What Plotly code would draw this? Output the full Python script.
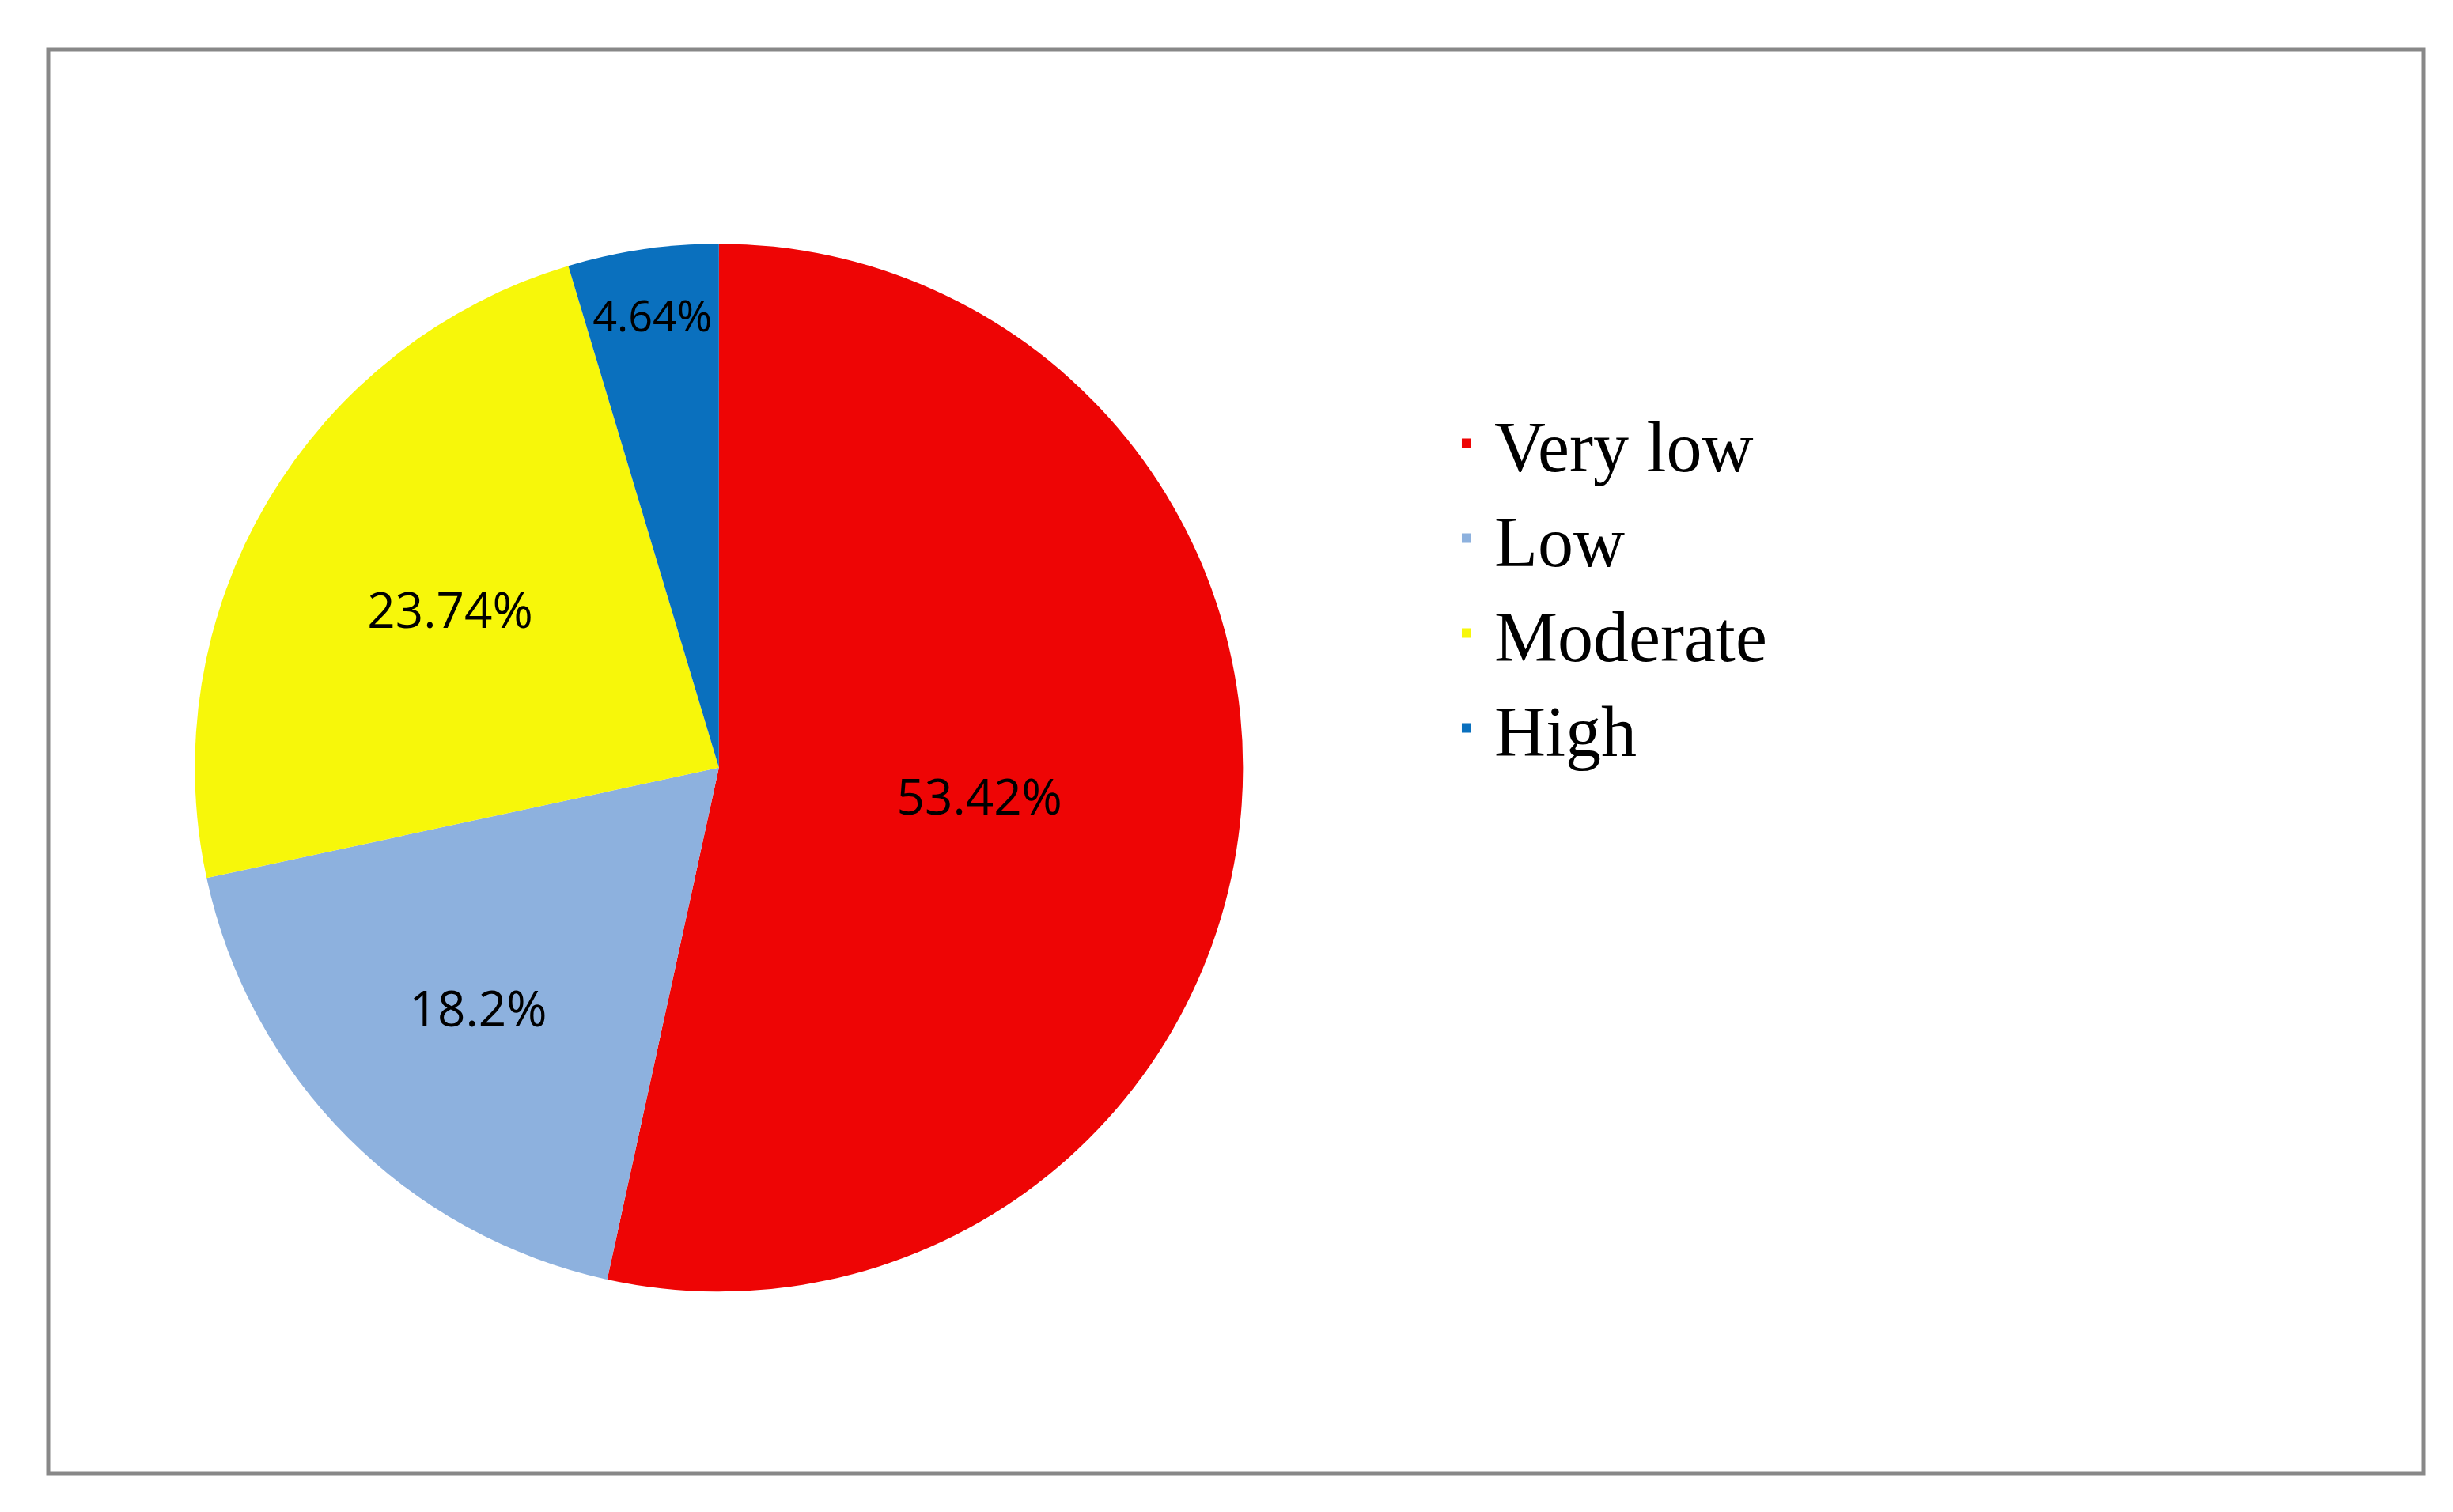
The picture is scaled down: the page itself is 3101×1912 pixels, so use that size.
import plotly.graph_objects as go

categories = ["Very low", "Low", "Moderate", "High"]
values = [53.42, 18.2, 23.74, 4.64]
colors = ["#EE0505", "#8DB1DE", "#F7F70A", "#0A70BE"]

fig = go.Figure(go.Pie(
    labels=categories, values=values, sort=False, direction="clockwise", rotation=0,
    marker=dict(colors=colors, line=dict(width=0)),
    texttemplate="%{value}%", textposition="inside", insidetextorientation="horizontal",
    textfont=dict(family="Open Sans", size=62, color="black"),
    domain=dict(x=[0.073, 0.508], y=[0.15, 0.843]),
    hoverinfo="skip",
))
fig.update_layout(
    width=3101, height=1912, margin=dict(l=0, r=0, t=0, b=0),
    paper_bgcolor="white",
    legend=dict(x=0.584, y=0.745, xanchor="left", yanchor="top",
                font=dict(family="Liberation Serif", size=90, color="black"),
                itemwidth=60),
    shapes=[dict(type="rect", xref="paper", yref="paper", x0=53/3101, x1=3056/3101,
                 y0=1-1855/1912, y1=1-55/1912, line=dict(color="#888888", width=5))],
)
fig.write_html("out.html")
